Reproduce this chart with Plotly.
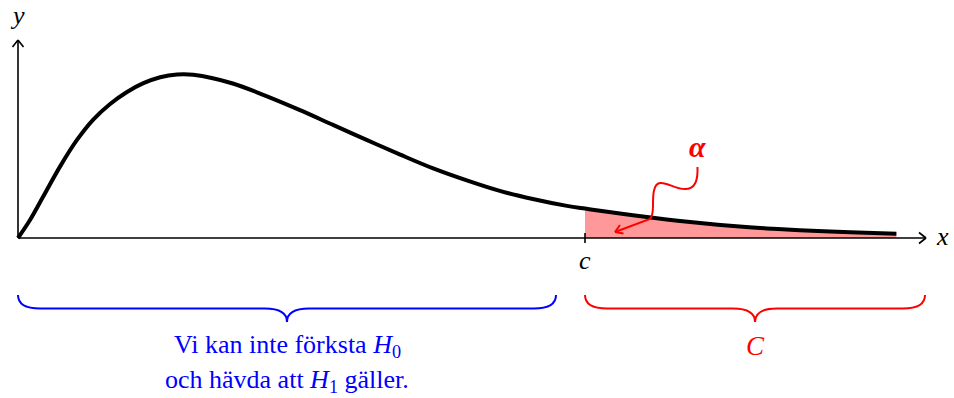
import plotly.graph_objects as go

# ---- data (in drawing units) ----
curve_x = [0.0, 0.2, 0.42, 0.7, 0.98, 1.25, 1.53, 1.81, 2.09, 2.37, 2.65, 2.92,
           3.58, 4.15, 4.7, 5.25, 5.81, 6.37, 6.92, 7.48, 8.03, 8.58, 9.15, 9.45,
           9.7, 10.25, 10.81, 11.37, 11.92, 12.48, 13.03, 13.87, 14.64]
curve_y = [0.0, 0.3, 0.69, 1.19, 1.63, 1.97, 2.23, 2.43, 2.58, 2.68, 2.725, 2.72,
           2.575, 2.36, 2.13, 1.885, 1.635, 1.39, 1.16, 0.96, 0.785, 0.65, 0.535, 0.49,
           0.455, 0.38, 0.31, 0.25, 0.20, 0.16, 0.13, 0.095, 0.07]
c_value = 9.45
tick_label = "c"
axis_labels = {"x": "x", "y": "y"}
alpha_label = "α"
left_text = ["Vi kan inte förksta <i>H</i><sub>0</sub>",
             "och hävda att <i>H</i><sub>1</sub> gäller."]
right_text = "C"

# ---- geometry / style ----
U = 60.0               # px per unit
W, H = 954, 398
OX, OY = 18, 238       # origin in px
def px(x, y):
    return ((x - OX) / U, (OY - y) / U)

BLUE = "#0000ff"
RED = "#ff0000"
FILL = "rgb(255,153,153)"
FONT = "Liberation Serif"

fig = go.Figure()

# shaded tail
sx = [x for x in curve_x if x >= c_value]
sy = [y for x, y in zip(curve_x, curve_y) if x >= c_value]
fig.add_trace(go.Scatter(x=sx, y=sy, mode="lines", fill="tozeroy",
                         fillcolor=FILL, line=dict(width=0, color=FILL, shape="spline", smoothing=1.0),
                         hoverinfo="skip", showlegend=False))

# axes
x_end = px(926, 0)[0]
y_end = px(0, 40)[1]
def seg(x0, y0, x1, y1, color="black", width=1.6):
    fig.add_shape(type="line", x0=x0, y0=y0, x1=x1, y1=y1, xref="x", yref="y",
                  line=dict(color=color, width=width), layer="above")

seg(0, 0, x_end, 0)
seg(0, 0, 0, y_end)
# arrow heads (open chevrons)
a, b = 7 / U, 5.5 / U
seg(x_end - a, b, x_end, 0); seg(x_end - a, -b, x_end, 0)
seg(-b, y_end - a, 0, y_end); seg(b, y_end - a, 0, y_end)
# tick at c
seg(c_value, -5 / U, c_value, 5 / U)

# curve
fig.add_trace(go.Scatter(x=curve_x, y=curve_y, mode="lines",
                         line=dict(color="black", width=4, shape="spline", smoothing=1.0),
                         hoverinfo="skip", showlegend=False))

# snake arrow
def P(x, y):
    u, v = px(x, y)
    return f"{u:.4f},{v:.4f}"
snake = (f"M {P(697.5,167)} C {P(698,181)} {P(695,189)} {P(685,189)} "
         f"C {P(675,189)} {P(667,182)} {P(660,183)} "
         f"C {P(653,184)} {P(653,196)} {P(653,205)} "
         f"C {P(653,214)} {P(652,217)} {P(650,219)} "
         f"L {P(615,232)}")
fig.add_shape(type="path", path=snake, xref="x", yref="y",
              line=dict(color=RED, width=2), layer="above")
tip = px(615, 232)
for q in [(620, 225), (623.5, 233.5)]:
    e = px(*q)
    seg(e[0], e[1], tip[0], tip[1], color=RED, width=2)

# braces
def brace(x0p, x1p, topp, midp, tipp, color):
    cx = (x0p + x1p) / 2
    r = 22
    path = (f"M {P(x0p, topp)} Q {P(x0p, midp)} {P(x0p + r, midp)} "
            f"L {P(cx - r, midp)} Q {P(cx, midp)} {P(cx, tipp)} "
            f"Q {P(cx, midp)} {P(cx + r, midp)} "
            f"L {P(x1p - r, midp)} Q {P(x1p, midp)} {P(x1p, topp)}")
    fig.add_shape(type="path", path=path, xref="x", yref="y",
                  line=dict(color=color, width=2), layer="above")

brace(18, 556, 295, 308.5, 322, BLUE)
brace(585, 925, 295, 308.5, 322, RED)

# texts
def text(xp, yp, s, color="black", size=26):
    x, y = px(xp, yp)
    fig.add_annotation(x=x, y=y, text=s, showarrow=False, xref="x", yref="y",
                       xanchor="center", yanchor="middle",
                       font=dict(family=FONT, size=size, color=color))

text(17, 15, f"<i>{axis_labels['y']}</i>")
text(942, 236, f"<i>{axis_labels['x']}</i>")
text(585, 260, f"<i>{tick_label}</i>")
text(697, 146, f"<b><i>{alpha_label}</i></b>", RED, 30)
text(287, 346, left_text[0], BLUE, 26)
text(287, 381, left_text[1], BLUE, 26)
text(755, 346, f"<i>{right_text}</i>", RED, 27)

fig.update_layout(
    width=W, height=H, margin=dict(l=0, r=0, t=0, b=0),
    paper_bgcolor="white", plot_bgcolor="white",
    xaxis=dict(range=[-OX / U, (W - OX) / U], visible=False, fixedrange=True),
    yaxis=dict(range=[-(H - OY) / U, OY / U], visible=False, fixedrange=True),
    showlegend=False,
)

fig.write_html("out.html", config={"displayModeBar": False},
               post_script="document.body.style.margin='0';document.body.style.overflow='hidden';")
